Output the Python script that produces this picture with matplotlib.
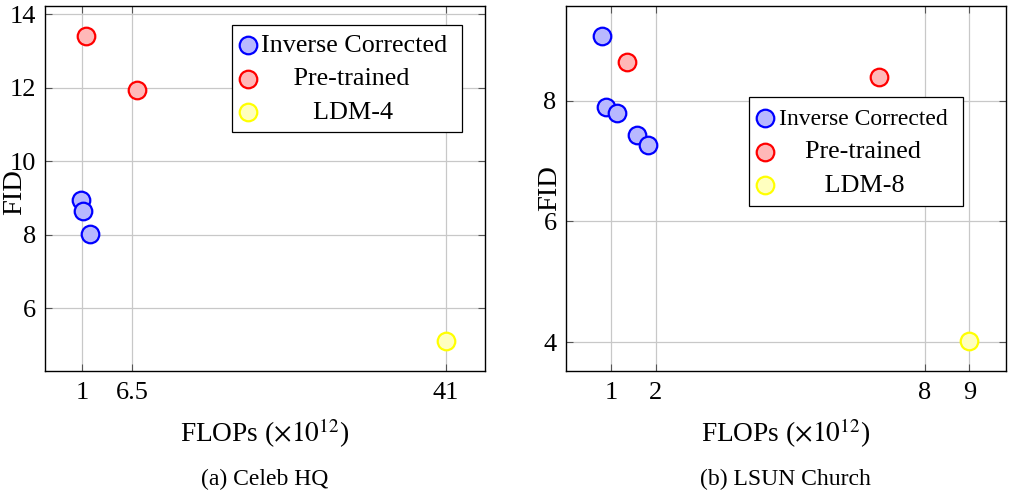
import matplotlib.pyplot as plt
import numpy as np

plt.rcParams['font.family'] = ['Liberation Serif', 'DejaVu Serif']
plt.rcParams['mathtext.fontset'] = 'stix'

# Celeb HQ
celeb_inv_x = [0.9, 1.15, 1.85]
celeb_inv_y = [8.95, 8.65, 8.02]
celeb_pre_x = [1.4, 7.0]
celeb_pre_y = [13.4, 11.93]
celeb_ldm_x = [41]
celeb_ldm_y = [5.11]
celeb_xticks = [1, 6.5, 41]
celeb_xticklabels = ['1', '6.5', '41']
celeb_yticks = [6, 8, 10, 12, 14]

# LSUN Church
church_inv_x = [0.79, 0.9, 1.13, 1.59, 1.82]
church_inv_y = [9.08, 7.9, 7.8, 7.43, 7.26]
church_pre_x = [1.37, 6.98]
church_pre_y = [8.64, 8.40]
church_ldm_x = [8.99]
church_ldm_y = [4.02]
church_xticks = [1, 2, 8, 9]
church_xticklabels = ['1', '2', '8', '9']
church_yticks = [4, 6, 8]

W, H = 1010, 492
fig = plt.figure(figsize=(W / 100, H / 100), dpi=100)

def px_axes(x0, x1, y0, y1):
    return fig.add_axes([x0 / W, 1 - y1 / H, (x1 - x0) / W, (y1 - y0) / H])

ax1 = px_axes(45, 485, 5.7, 371)
ax2 = px_axes(565.7, 1005.7, 5.7, 371)

def draw(ax, inv, pre, ldm, labels, xticks, xlabels, yticks, xlim, ylim, leg_anchor, ylab_pos,
         caption, first_size, bpad):
    kw = dict(s=160, linewidths=1.6, zorder=3)
    ax.scatter(inv[0], inv[1], facecolor=(0.72, 0.72, 1.0), edgecolor='blue', label=labels[0], **kw)
    ax.scatter(pre[0], pre[1], facecolor=(1.0, 0.72, 0.72), edgecolor='red', label=labels[1], **kw)
    ax.scatter(ldm[0], ldm[1], facecolor=(1.0, 1.0, 0.75), edgecolor='yellow', label=labels[2], **kw)
    ax.set_xlim(*xlim)
    ax.set_ylim(*ylim)
    ax.set_xticks(xticks)
    ax.set_xticklabels(xlabels)
    ax.set_yticks(yticks)
    ax.grid(True, color='#c8c8c8', linewidth=0.9)
    ax.set_axisbelow(True)
    ax.tick_params(direction='in', length=5, width=0.8, top=True, right=True,
                   labelsize=19, color='#555555')
    ax.tick_params(axis='x', pad=8)
    ax.tick_params(axis='y', pad=6.5)
    for sp in ax.spines.values():
        sp.set_linewidth(1.0)
    ax.set_ylabel('FID', fontsize=20.5)
    ax.yaxis.set_label_coords(*ylab_pos)
    ax.set_xlabel(r'FLOPs ($\times10^{12}$)', fontsize=19.7, labelpad=9)
    ax.text(0.5, -0.298, caption, transform=ax.transAxes, ha='center', va='center', fontsize=17)
    leg = ax.legend(loc='upper left', bbox_to_anchor=leg_anchor, fontsize=18.8, frameon=True,
                    fancybox=False, edgecolor='black', framealpha=1, handletextpad=0.25,
                    borderpad=bpad, labelspacing=0.39, handlelength=0.52, borderaxespad=0)
    leg.get_frame().set_linewidth(0.9)
    leg.get_texts()[0].set_fontsize(first_size)

draw(ax1, (celeb_inv_x, celeb_inv_y), (celeb_pre_x, celeb_pre_y), (celeb_ldm_x, celeb_ldm_y),
     ['Inverse Corrected ', '     Pre-trained', '        LDM-4'],
     celeb_xticks, celeb_xticklabels, celeb_yticks, (-3.07, 45.3), (4.30, 14.23),
     ((232.3 - 45) / 440, 1 - (25 - 5.7) / 365.3), (-0.041, 0.49), '(a) Celeb HQ', 18.8, 0.33)
draw(ax2, (church_inv_x, church_inv_y), (church_pre_x, church_pre_y), (church_ldm_x, church_ldm_y),
     ['Inverse Corrected ', '    Pre-trained', '       LDM-8'],
     church_xticks, church_xticklabels, church_yticks, (-0.009, 9.81), (3.52, 9.575),
     ((749.3 - 565.7) / 440, 1 - (97.3 - 5.7) / 365.3), (-0.009, 0.5), '(b) LSUN Church', 17.0, 0.36)

fig.savefig('out.png', dpi=100)
